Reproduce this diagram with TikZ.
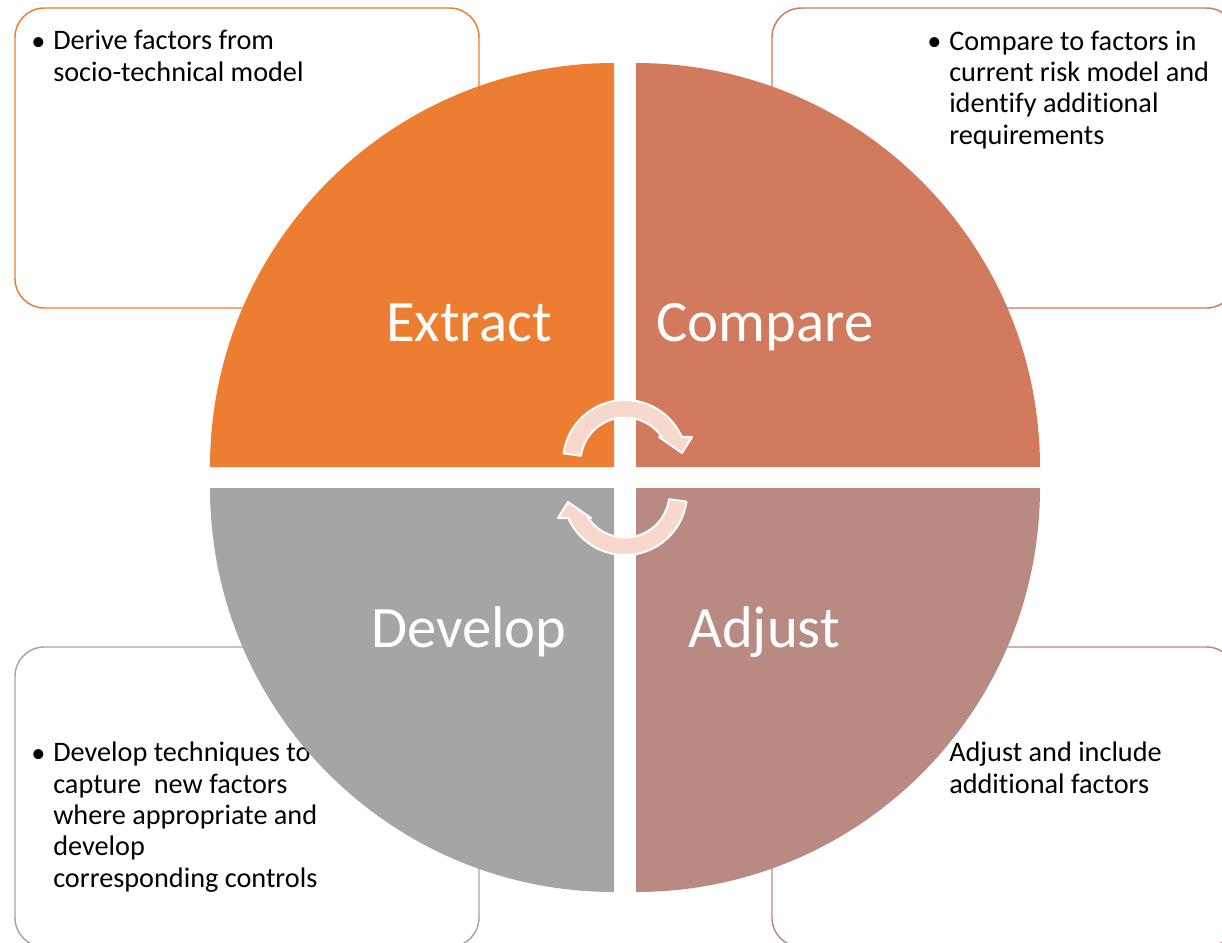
\documentclass[tikz,border=0pt]{standalone}
\usepackage{fontspec}
\setmainfont[Ligatures=NoCommon]{Carlito}
\usepackage{tikz}
\definecolor{extractc}{HTML}{ED7D31}
\definecolor{comparec}{HTML}{D17A5D}
\definecolor{developc}{HTML}{A5A5A5}
\definecolor{adjustc}{HTML}{B98A82}
\definecolor{arrowc}{HTML}{F8D8CD}

\begin{document}
\begin{tikzpicture}[x=0.75pt, y=-0.75pt,
  box/.style={rounded corners=22pt, line width=1.1pt, fill=white},
  note/.style={anchor=base west, inner sep=0pt, align=left, font=\fontsize{21.2}{23.5}\selectfont},
  dot/.style={anchor=base west, inner sep=0pt, font=\fontsize{21.2}{23.5}\selectfont},
  phase/.style={anchor=base, inner sep=0pt, text=white, font=\fontsize{44}{50}\selectfont},
  turn/.style={fill=arrowc, draw=white, line width=1.5pt, line join=round}]
\useasboundingbox (0,0) rectangle (1222,943);

\draw[box, draw=extractc] (15,8) rectangle (479,308);
\draw[box, draw=comparec] (772,8) rectangle (1236,308);
\draw[box, draw=developc] (15,647) rectangle (479,947);
\draw[box, draw=adjustc] (772,647) rectangle (1236,947);

% notes: base of a node is its last line
\node[dot] (extractdot) at (31,50) {•};
\node[note] (extractnote) at (53,81.3) {Derive factors from\\socio-technical model};
\node[dot] (comparedot) at (927,50) {•};
\node[note] (comparenote) at (949,144) {Compare to factors in\\current risk model and\\identify additional\\requirements};
\node[dot] (developdot) at (31,762) {•};
\node[note] (developnote) at (53,887.2) {Develop techniques to\\capture\ \ new factors\\where appropriate and\\develop\\corresponding controls};
\node[note] (adjustnote) at (949,793.3) {Adjust and include\\additional factors};

\fill[extractc] (614,467) -- +(180:404) arc[start angle=180, end angle=270, radius=404] -- cycle;
\fill[comparec] (636,467) -- +(270:404) arc[start angle=270, end angle=360, radius=404] -- cycle;
\fill[developc] (614,488) -- +(90:404) arc[start angle=90, end angle=180, radius=404] -- cycle;
\fill[adjustc] (636,488) -- +(0:404) arc[start angle=0, end angle=90, radius=404] -- cycle;

\node[phase] (extract) at (469,341) {Extract};
\node[phase] (compare) at (765,341) {Compare};
\node[phase] (develop) at (469,647) {Develop};
\node[phase] (adjust) at (764,647) {Adjust};

\begin{scope}[shift={(625,462)}]
\draw[turn] (188:62) arc[start angle=188, end angle=336, radius=62] -- (67,-25) -- (57,-9) -- (34,-25)
  -- (326:44.5) arc[start angle=326, end angle=188, radius=44.5] -- cycle;
\end{scope}
\begin{scope}[shift={(625,493)}, rotate=180]
\draw[turn] (188:62) arc[start angle=188, end angle=336, radius=62] -- (67,-25) -- (57,-9) -- (34,-25)
  -- (326:44.5) arc[start angle=326, end angle=188, radius=44.5] -- cycle;
\end{scope}
\end{tikzpicture}
\end{document}
